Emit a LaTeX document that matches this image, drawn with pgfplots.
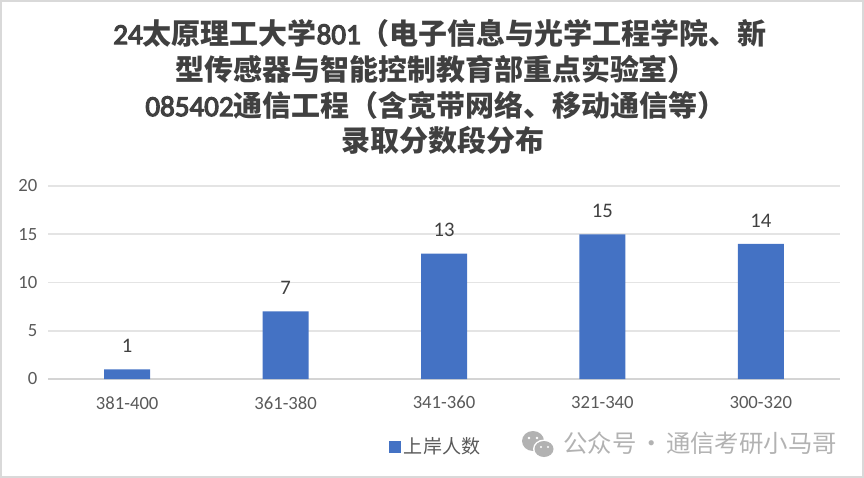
\documentclass[border=0pt]{standalone}
\usepackage{fontspec}
\usepackage{pgfplots}
\pgfplotsset{compat=1.18}
\setmainfont{Carlito}
\newfontfamily\cjk{Noto Sans CJK SC}
\newfontfamily\latinbold{Carlito}[FakeBold=4]

\definecolor{barblue}{HTML}{4472C4}
\definecolor{gridgrey}{HTML}{E4E4E4}
\definecolor{zerogrey}{HTML}{D4D4D4}
\definecolor{framegrey}{HTML}{D9D9D9}
\definecolor{titlegrey}{HTML}{404040}
\definecolor{labelgrey}{HTML}{595959}
\definecolor{markgrey}{HTML}{B2B2B2}

\tikzset{titleline/.style={text=titlegrey,font=\fontsize{21.75pt}{27pt}\selectfont}}

% 1 px of the reference = 0.75pt here
\begin{document}
\begin{tikzpicture}[x=0.75pt,y=-0.75pt]
  \useasboundingbox (0,0) rectangle (864,478);
  \draw[framegrey,line width=1.5pt] (1,1) rectangle (863,477);

  \begin{axis}[
      at={(36pt,-284.25pt)}, anchor=south west,
      scale only axis,
      width=594pt, height=144.75pt,
      xmin=-0.5, xmax=4.5,
      ymin=0, ymax=20,
      xtick={0,1,2,3,4},
      xticklabels={381-400,361-380,341-360,321-340,300-320},
      ytick={0,5,10,15,20},
      axis x line*=bottom, axis y line*=left,
      x axis line style={-,color=zerogrey,line width=1.5pt},
      y axis line style={draw=none},
      major tick length=0pt,
      ymajorgrids=true,
      grid style={gridgrey,line width=1.3pt},
      tick label style={font=\fontsize{14pt}{16pt}\selectfont,text=labelgrey},
      xticklabel style={yshift=-9.5pt},
      yticklabel style={xshift=-4.5pt},
      /pgf/number format/assume math mode=true,
      legend style={
        at={(0.49,-0.352)}, anchor=center,
        draw=none, fill=none,
        font=\fontsize{14.3pt}{16pt}\selectfont,
        text=labelgrey,
      },
      legend image code/.code={
        \fill[barblue] (-4.5pt,-4.5pt) rectangle (4.5pt,4.5pt);
      },
    ]
    \addplot[
      ybar, bar width=34.5pt, bar shift=0pt,
      fill=barblue, draw=none,
      nodes near coords,
      every node near coord/.style={
        anchor=center, yshift=17.5pt,
        font=\fontsize{15.5pt}{17pt}\selectfont, text=titlegrey,
      },
    ] coordinates {(0,1)(1,7)(2,13)(3,15)(4,14)};
    \addlegendentry{\cjk 上岸人数}
  \end{axis}

  \node[titleline] at (440,33)
    {{\latinbold 24}{\cjk\bfseries 太原理工大学}{\latinbold 801}{\cjk\bfseries （电子信息与光学工程学院、新}};
  \node[titleline] at (436,69)
    {\cjk\bfseries 型传感器与智能控制教育部重点实验室）};
  \node[titleline] at (436,105)
    {{\latinbold 085402}{\cjk\bfseries 通信工程（含宽带网络、移动通信等）}};
  \node[titleline] at (443,140)
    {\cjk\bfseries 录取分数段分布};

  % watermark
  \fill[markgrey] (533,441) ellipse (11 and 10);
  \fill[white] (544,449) ellipse (11 and 9.5);
  \fill[markgrey] (544,449) ellipse (9.5 and 8);
  \fill[white] (529,438) circle (1.4) (537,438) circle (1.4)
               (541,447) circle (1.2) (548,447) circle (1.2);
  \node[anchor=west,inner sep=0pt,text=markgrey,font=\fontsize{18.3pt}{20pt}\cjk] at (563,443)
    {公众号\hspace{2pt}·\hspace{2pt}通信考研小马哥};
\end{tikzpicture}
\end{document}
